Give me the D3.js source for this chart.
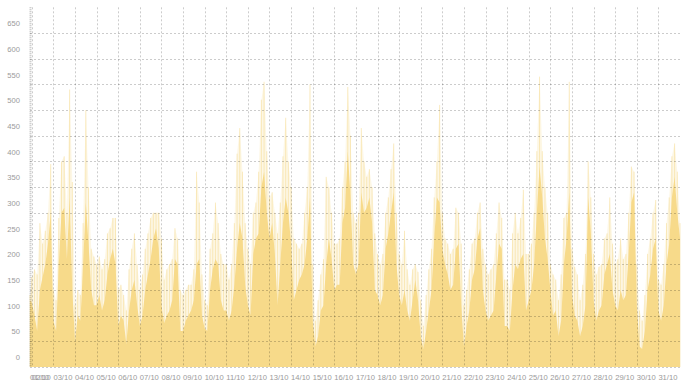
<!DOCTYPE html>
<html>
<head>
<meta charset="utf-8">
<script src="https://cdn.jsdelivr.net/npm/d3@7"></script>
<style>
  body { margin: 0; background: #fff; }
  .tick-label { font-family: "Liberation Sans", Arial, sans-serif; font-size: 7.6px; fill: #9a9a9a; }
</style>
</head>
<body>
<script>

// 3-hourly buckets: 01/10 22:00, then 02/10 00:00 ... 31/10 21:00, then 01/11 00:00
var bucketHours = [0, 3, 6, 9, 12, 15, 18, 21];

// bulk level of each bucket (solid fill)
var typical = [
  130,
  125,100,70,150,175,200,240,300,   // 02/10
  90,70,200,300,310,210,330,150,    // 03/10
  50,100,90,200,320,240,150,120,    // 04/10
  120,140,110,130,180,210,230,200,  // 05/10
  80,100,90,45,110,150,170,120,     // 06/10
  80,100,150,180,210,250,270,230,   // 07/10
  120,85,100,110,130,210,200,70,    // 08/10
  70,90,100,110,130,200,210,100,    // 09/10
  75,70,150,190,210,200,130,110,    // 10/10
  110,90,110,160,230,280,250,160,   // 11/10
  120,100,220,250,260,350,380,300,  // 12/10
  250,280,220,120,200,280,330,300,  // 13/10
  240,130,150,170,180,200,250,330,  // 14/10
  90,40,60,110,120,200,250,210,     // 15/10
  150,160,160,280,310,420,330,200,  // 16/10
  180,200,340,300,310,330,280,150,  // 17/10
  140,120,140,230,260,300,340,200,  // 18/10
  140,120,150,110,90,130,170,130,   // 19/10
  60,35,70,110,150,250,330,320,     // 20/10
  230,200,180,150,160,230,240,120,  // 21/10
  40,80,110,170,190,250,270,150,    // 22/10
  110,90,100,110,180,240,230,80,    // 23/10
  80,70,150,200,190,210,220,110,    // 24/10
  130,150,200,300,390,330,250,210,  // 25/10
  150,100,110,60,90,200,250,340,    // 26/10
  140,100,90,60,80,120,330,260,     // 27/10
  130,90,110,120,180,200,220,150,   // 28/10
  120,110,150,130,140,220,320,340,  // 29/10
  120,40,35,70,150,180,230,250,     // 30/10
  110,90,120,200,240,330,370,300,   // 31/10
  250
];

// highest sample in each bucket (thin light spikes)
var peak = [
  140,
  175,190,180,280,240,265,300,395,  // 02/10
  150,130,290,400,410,300,540,360,  // 03/10
  120,150,140,280,500,350,230,215,  // 04/10
  200,215,190,210,260,270,290,290,  // 05/10
  150,160,140,110,190,230,260,200,  // 06/10
  150,180,230,260,290,300,300,300,  // 07/10
  250,170,190,200,210,270,250,150,  // 08/10
  140,150,160,160,190,380,320,180,  // 09/10
  130,120,230,260,320,280,220,200,  // 10/10
  200,170,200,280,415,465,380,280,  // 11/10
  230,200,300,320,380,520,555,420,  // 12/10
  330,340,300,260,320,410,485,400,  // 13/10
  350,250,240,230,240,300,350,550,  // 14/10
  200,90,130,180,210,370,350,300,   // 15/10
  240,240,250,350,400,545,450,300,  // 16/10
  280,300,465,400,370,385,350,260,  // 17/10
  220,200,220,300,330,385,435,300,  // 18/10
  220,200,265,190,160,190,200,185,  // 19/10
  130,80,140,190,230,330,400,510,   // 20/10
  300,250,240,220,230,310,300,240,  // 21/10
  120,150,190,240,250,300,320,230,  // 22/10
  200,180,190,200,260,320,290,170,  // 23/10
  170,150,260,300,260,290,345,220,  // 24/10
  220,240,300,420,565,420,350,300,  // 25/10
  200,180,170,130,180,290,300,555,  // 26/10
  230,195,180,130,160,220,400,330,  // 27/10
  220,180,195,200,250,260,330,240,  // 28/10
  200,210,250,210,220,300,390,380,  // 29/10
  200,110,90,140,220,250,300,325,   // 30/10
  170,160,200,280,330,410,435,380,  // 31/10
  280
];

var yTicks = [0, 50, 100, 150, 200, 250, 300, 350, 400, 450, 500, 550, 600, 650];

var width = 688, height = 387;
var plotLeft = 30, plotRight = 680, plotTop = 7.3, plotBottom = 367;

var start = new Date(2019, 9, 1, 22), end = new Date(2019, 10, 1, 0);

// timestamps for the buckets
var times = [start];
for (var day = 2; day <= 31; day++) {
  bucketHours.forEach(function(h) { times.push(new Date(2019, 9, day, h)); });
}
times.push(end);

var data = times.map(function(t, i) {
  return { t: t, typ: typical[i], peak: peak[i] };
});

var x = d3.scaleTime().domain([start, end]).range([plotLeft, plotRight]);
var y = d3.scaleLinear().domain([0, 700]).range([plotBottom, plotTop]);

var svg = d3.select("body")
            .append("svg")
            .attr("width", width)
            .attr("height", height);

var fmt = d3.timeFormat("%d/%m");
var xTicks = [start].concat(d3.timeDay.range(new Date(2019, 9, 2), end));

// light envelope
svg.append("path")
   .datum(data)
   .attr("d", d3.area().x(function(d) { return x(d.t); }).y0(y(0)).y1(function(d) { return y(d.peak); }))
   .style("fill", "rgb(247,218,138)")
   .style("opacity", 0.22);

// spikes
svg.append("g")
   .selectAll("line")
   .data(data)
   .enter().append("line")
   .attr("x1", function(d) { return x(d.t); })
   .attr("x2", function(d) { return x(d.t); })
   .attr("y1", y(0))
   .attr("y2", function(d) { return y(d.peak); })
   .style("stroke", "rgb(247,218,138)")
   .style("stroke-width", 1)
   .style("opacity", 0.5);

// solid area
svg.append("path")
   .datum(data)
   .attr("d", d3.area().x(function(d) { return x(d.t); }).y0(y(0)).y1(function(d) { return y(d.typ); }))
   .style("fill", "rgb(247,218,138)");

// grid
svg.append("g")
   .selectAll("line")
   .data(yTicks)
   .enter().append("line")
   .attr("x1", plotLeft).attr("x2", plotRight)
   .attr("y1", function(d) { return Math.round(y(d)) + 0.5; })
   .attr("y2", function(d) { return Math.round(y(d)) + 0.5; })
   .style("stroke", "rgba(0,0,0,0.2)")
   .style("stroke-dasharray", "2,2");

svg.append("g")
   .selectAll("line")
   .data(xTicks.slice(1))
   .enter().append("line")
   .attr("x1", function(d) { return Math.round(x(d)) + 0.5; })
   .attr("x2", function(d) { return Math.round(x(d)) + 0.5; })
   .attr("y1", plotTop).attr("y2", plotBottom)
   .style("stroke", "rgba(0,0,0,0.2)")
   .style("stroke-dasharray", "2,2");

// left axis line, dense dots
svg.append("line")
   .attr("x1", plotLeft + 0.5).attr("x2", plotLeft + 0.5)
   .attr("y1", plotTop).attr("y2", plotBottom)
   .style("stroke", "rgba(0,0,0,0.25)")
   .style("stroke-width", 2)
   .style("stroke-dasharray", "1,1");

// labels
svg.append("g")
   .selectAll("text")
   .data(yTicks)
   .enter().append("text")
   .attr("class", "tick-label")
   .attr("x", 20)
   .attr("y", function(d) { return y(d) - 9.5; })
   .attr("dy", "0.35em")
   .attr("text-anchor", "end")
   .text(function(d) { return d; });

svg.append("g")
   .selectAll("text")
   .data(xTicks)
   .enter().append("text")
   .attr("class", "tick-label")
   .attr("x", function(d) { return x(d); })
   .attr("y", 377)
   .attr("dy", "0.35em")
   .text(function(d, i) { return i == 0 ? "01/10" : fmt(d); });

</script>
</body>
</html>
